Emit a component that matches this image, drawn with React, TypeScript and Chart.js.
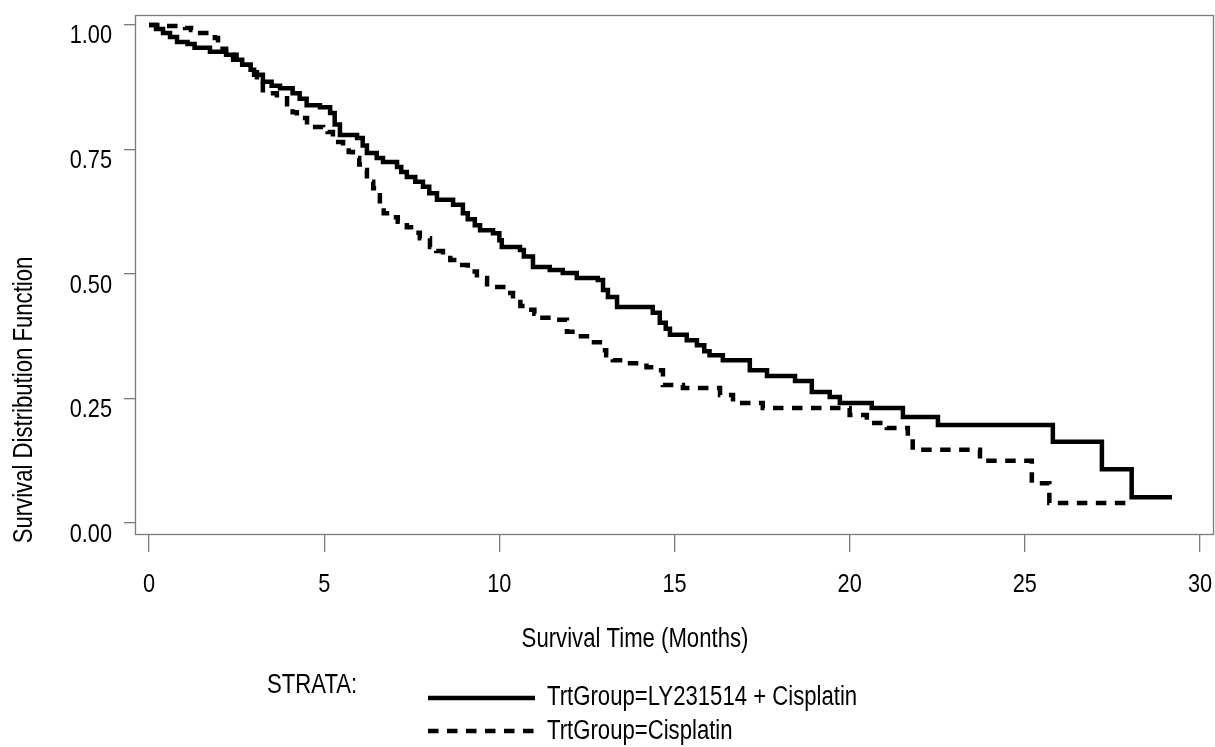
import React, { useEffect, useRef } from "react";
import { Chart, registerables } from "chart.js";

Chart.register(...registerables);

// Arial-metric font, drawn horizontally condensed to mimic Arial Narrow
const FONT = '"Liberation Sans", Arial, sans-serif';
const NARROW = 0.82;

// ---- data ----
const xTickValues = [0, 5, 10, 15, 20, 25, 30];
const yTickValues = [0, 0.25, 0.5, 0.75, 1.0];
const xTitle = "Survival Time (Months)";
const yTitle = "Survival Distribution Function";
const legendHeading = "STRATA:";
const seriesNames = ["TrtGroup=LY231514 + Cisplatin", "TrtGroup=Cisplatin"];

const lyTime = [
  0, 0.2, 0.4, 0.6, 0.8, 1.1, 1.3, 1.74, 2.2, 2.4, 2.66, 2.9, 3.0, 3.25, 3.5, 3.74,
  4.1, 4.3, 4.5, 4.88, 5.17, 5.3, 5.45, 5.94, 6.1, 6.22, 6.5, 6.68, 7.08, 7.2, 7.36,
  7.6, 7.82, 8.0, 8.22, 8.68, 8.96, 9.1, 9.3, 9.45, 9.82, 10.0, 10.07, 10.59, 10.7,
  10.96, 11.44, 11.81, 12.21, 12.81, 12.96, 13.1, 13.36, 14.38, 14.58, 14.75, 14.87,
  15.35, 15.64, 15.85, 16.0, 16.38, 17.15, 17.64, 18.44, 18.92, 19.43, 19.72, 20.63,
  21.52, 22.52, 25.8, 27.2, 28.05, 29.2,
];
const lySurv = [
  1.0, 0.992, 0.984, 0.976, 0.966, 0.962, 0.954, 0.946, 0.94, 0.93, 0.92, 0.91, 0.9,
  0.886, 0.878, 0.873, 0.863, 0.852, 0.839, 0.835, 0.823, 0.8, 0.779, 0.773, 0.758,
  0.743, 0.733, 0.725, 0.715, 0.705, 0.695, 0.685, 0.675, 0.662, 0.649, 0.639, 0.622,
  0.61, 0.598, 0.588, 0.582, 0.568, 0.554, 0.548, 0.535, 0.514, 0.508, 0.502, 0.492,
  0.488, 0.468, 0.454, 0.434, 0.422, 0.402, 0.39, 0.378, 0.367, 0.357, 0.345, 0.337,
  0.327, 0.307, 0.295, 0.285, 0.263, 0.253, 0.241, 0.231, 0.213, 0.197, 0.163, 0.108,
  0.052, 0.052,
];

const cisTime = [
  0, 0.5, 1.03, 1.2, 1.46, 1.88, 1.97, 2.1, 2.2, 2.5, 2.66, 2.9, 3.08, 3.25, 3.65,
  3.94, 4.1, 4.22, 4.51, 4.97, 5.1, 5.25, 5.4, 5.54, 5.7, 5.82, 6.0, 6.11, 6.22, 6.4,
  6.51, 6.59, 6.7, 6.88, 7.1, 7.36, 7.55, 7.73, 8.02, 8.2, 8.39, 8.6, 8.79, 9.1, 9.36,
  9.65, 10.22, 10.39, 10.6, 10.79, 11.0, 11.16, 11.64, 11.93, 12.2, 12.59, 12.87,
  13.05, 13.24, 13.73, 14.2, 14.5, 14.67, 15.24, 16.3, 16.67, 17.52, 20.0, 20.49,
  21.06, 21.66, 21.8, 23.72, 25.2, 25.7, 27.9,
];
const cisSurv = [
  1.0, 0.998, 0.994, 0.99, 0.984, 0.974, 0.964, 0.952, 0.94, 0.93, 0.92, 0.905, 0.886,
  0.863, 0.853, 0.835, 0.825, 0.813, 0.795, 0.793, 0.785, 0.775, 0.765, 0.755, 0.745,
  0.733, 0.72, 0.709, 0.685, 0.672, 0.663, 0.635, 0.622, 0.614, 0.605, 0.594, 0.583,
  0.572, 0.554, 0.546, 0.538, 0.528, 0.518, 0.505, 0.492, 0.474, 0.462, 0.444, 0.436,
  0.428, 0.42, 0.412, 0.408, 0.384, 0.375, 0.363, 0.347, 0.337, 0.327, 0.321, 0.313,
  0.307, 0.277, 0.271, 0.257, 0.241, 0.231, 0.217, 0.201, 0.191, 0.173, 0.147, 0.125,
  0.08, 0.04, 0.04,
];

const LINE_W = 4.5;
const DASH = [10.5, 8.5];
const AXIS_GRAY = "#7a7a7a";

function narrowText(ctx: CanvasRenderingContext2D, text: string, x: number, y: number, align: CanvasTextAlign, size: number, rot = 0) {
  ctx.save();
  ctx.translate(x, y);
  if (rot) ctx.rotate(rot);
  ctx.scale(NARROW, 1);
  ctx.font = `${size}px ${FONT}`;
  ctx.textAlign = align;
  ctx.textBaseline = "alphabetic";
  ctx.fillStyle = "#000";
  ctx.fillText(text, 0, 0);
  ctx.restore();
}

const overlayPlugin = {
  id: "overlay",
  beforeDatasetsDraw(chart: any) {
    const { ctx, chartArea: a } = chart;
    ctx.save();
    ctx.strokeStyle = AXIS_GRAY;
    ctx.lineWidth = 1.3;
    ctx.strokeRect(a.left + 0.5, a.top + 0.5, a.right - a.left - 1, a.bottom - a.top - 1);
    ctx.restore();
  },
  afterDraw(chart: any) {
    const { ctx, chartArea: a } = chart;
    const ds = chart.data.datasets;
    const xs = chart.scales.x;
    const ys = chart.scales.y;
    // tick labels
    xs.ticks.forEach((t: any) => {
      narrowText(ctx, String(t.value), xs.getPixelForValue(t.value), a.bottom + 57, "center", 26.5);
    });
    ys.ticks.forEach((t: any) => {
      narrowText(ctx, Number(t.value).toFixed(2), a.left - 23, ys.getPixelForValue(t.value) + 18.5, "right", 26.5);
    });
    // axis titles
    narrowText(ctx, xTitle, 635, 647, "center", 27);
    narrowText(ctx, yTitle, 32, 400, "center", 27, -Math.PI / 2);
    // legend
    narrowText(ctx, legendHeading, 267, 693, "left", 27);
    const rows = [
      { y: 698, text: 705 },
      { y: 731, text: 739 },
    ];
    rows.forEach((r, i) => {
      const d = ds[i];
      ctx.save();
      ctx.strokeStyle = d.borderColor;
      ctx.lineWidth = d.borderWidth;
      ctx.lineCap = "butt";
      ctx.setLineDash(d.borderDash || []);
      ctx.beginPath();
      ctx.moveTo(428, r.y);
      ctx.lineTo(535, r.y);
      ctx.stroke();
      ctx.restore();
      narrowText(ctx, d.label, 547, r.text, "left", 27);
    });
  },
};

export default function App() {
  const ref = useRef<HTMLCanvasElement | null>(null);
  useEffect(() => {
    if (!ref.current) return;
    const zeroPad = (s: any) => {
      s.paddingTop = 0;
      s.paddingBottom = 0;
      s.paddingLeft = 0;
      s.paddingRight = 0;
    };
    const chart = new Chart(ref.current, {
      type: "line",
      data: {
        datasets: [
          {
            label: seriesNames[0],
            data: lyTime.map((t, i) => ({ x: t, y: lySurv[i] })),
            borderColor: "#000",
            borderWidth: LINE_W,
            stepped: "before",
            pointRadius: 0,
            fill: false,
            borderCapStyle: "butt",
            borderJoinStyle: "miter",
          },
          {
            label: seriesNames[1],
            data: cisTime.map((t, i) => ({ x: t, y: cisSurv[i] })),
            borderColor: "#000",
            borderWidth: LINE_W,
            borderDash: DASH,
            stepped: "before",
            pointRadius: 0,
            fill: false,
            borderCapStyle: "butt",
            borderJoinStyle: "miter",
          },
        ],
      },
      options: {
        animation: false,
        responsive: false,
        maintainAspectRatio: false,
        layout: { padding: { left: 0, right: 1, top: 15, bottom: 0 } },
        plugins: { legend: { display: false }, tooltip: { enabled: false }, title: { display: false } },
        scales: {
          x: {
            type: "linear",
            min: -0.4,
            max: 30.4,
            afterFit: (s: any) => {
              s.height = 212;
              zeroPad(s);
            },
            afterBuildTicks: (s: any) => {
              s.ticks = xTickValues.map((v) => ({ value: v }));
            },
            border: { display: false },
            grid: { drawOnChartArea: false, drawTicks: true, tickLength: 17, color: AXIS_GRAY, lineWidth: 1.3 },
            ticks: { display: false, autoSkip: false, maxRotation: 0 },
          },
          y: {
            type: "linear",
            min: -0.024,
            max: 1.02,
            afterFit: (s: any) => {
              s.width = 135;
              zeroPad(s);
            },
            afterBuildTicks: (s: any) => {
              s.ticks = yTickValues.map((v) => ({ value: v }));
            },
            border: { display: false },
            grid: { drawOnChartArea: false, drawTicks: true, tickLength: 11, color: AXIS_GRAY, lineWidth: 1.3 },
            ticks: { display: false },
          },
        },
      },
      plugins: [overlayPlugin],
    } as any);
    return () => chart.destroy();
  }, []);
  return (
    <div style={{ position: "fixed", left: 0, top: 0, width: 1215, height: 747, background: "#fff" }}>
      <canvas ref={ref} width={1215} height={747} style={{ width: 1215, height: 747, display: "block" }} />
    </div>
  );
}
